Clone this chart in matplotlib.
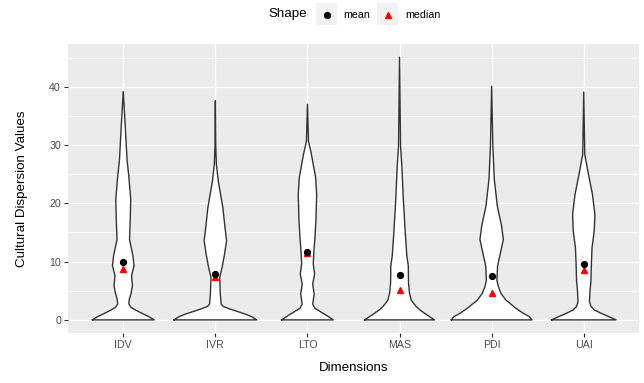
import matplotlib
matplotlib.use("Agg")
import matplotlib.pyplot as plt
from matplotlib.lines import Line2D
from matplotlib.patches import Rectangle

plt.rcParams['font.family'] = ['Liberation Sans', 'DejaVu Sans']

# ---- data -------------------------------------------------------------
categories = ["IDV", "IVR", "LTO", "MAS", "PDI", "UAI"]
means = [9.95, 7.9, 11.6, 7.75, 7.6, 9.6]
medians = [8.8, 7.4, 11.4, 5.2, 4.7, 8.6]

# violin outlines: value levels and half-widths (x-axis units)
idv_y = [0, 0.46, 1.03, 1.6, 2.17, 2.74, 3.6, 4.7, 5.9, 7.6, 9.3, 11.0, 13.8, 17.3, 20.7, 24.7, 27.5, 33.2, 39.2]
idv_w = [0.335, 0.289, 0.216, 0.144, 0.083, 0.06, 0.067, 0.087, 0.10, 0.09, 0.117, 0.105, 0.068, 0.076, 0.081, 0.06, 0.041, 0.022, 0.0]

ivr_y = [0, 0.5, 1.0, 1.45, 1.9, 2.3, 2.7, 4.4, 7.3, 9.0, 11.3, 13.6, 15.8, 19.3, 23.8, 26.7, 30.0, 37.6]
ivr_w = [0.45, 0.40, 0.325, 0.238, 0.152, 0.087, 0.063, 0.054, 0.047, 0.073, 0.10, 0.122, 0.105, 0.081, 0.032, 0.011, 0.004, 0.0]

lto_y = [0, 0.45, 0.9, 1.3, 2.0, 2.7, 4.4, 6.2, 7.9, 9.6, 11.8, 14.1, 17.0, 21.5, 24.4, 28.4, 30.7, 37.0]
lto_w = [0.281, 0.238, 0.195, 0.152, 0.081, 0.057, 0.073, 0.057, 0.078, 0.063, 0.07, 0.081, 0.092, 0.10, 0.089, 0.043, 0.011, 0.0]

mas_y = [0, 0.57, 1.14, 1.7, 2.28, 2.85, 3.4, 4.56, 6.4, 9.3, 11.0, 15.0, 20.7, 26.4, 29.8, 45.1]
mas_w = [0.379, 0.325, 0.271, 0.222, 0.181, 0.152, 0.127, 0.108, 0.097, 0.095, 0.079, 0.062, 0.041, 0.025, 0.011, 0.0]

pdi_y = [0, 0.57, 1.14, 1.71, 2.28, 2.85, 3.4, 4.0, 4.56, 5.7, 6.8, 9.3, 11.6, 13.8, 16.1, 19.5, 24.1, 29.8, 40.1]
pdi_w = [0.438, 0.408, 0.343, 0.289, 0.241, 0.198, 0.155, 0.127, 0.101, 0.073, 0.057, 0.065, 0.097, 0.127, 0.108, 0.062, 0.029, 0.013, 0.0]

uai_y = [0, 0.57, 1.14, 1.7, 2.28, 3.1, 5.0, 6.7, 9.6, 12.4, 15.3, 18.1, 21.5, 25.5, 28.4, 39.1]
uai_w = [0.35, 0.271, 0.187, 0.116, 0.079, 0.062, 0.068, 0.078, 0.083, 0.09, 0.114, 0.121, 0.095, 0.045, 0.011, 0.0]

profiles = [(idv_y, idv_w), (ivr_y, ivr_w), (lto_y, lto_w),
            (mas_y, mas_w), (pdi_y, pdi_w), (uai_y, uai_w)]

y_ticks = [0, 10, 20, 30, 40]

# ---- figure -----------------------------------------------------------
W, H = 644, 383
fig = plt.figure(figsize=(W / 100, H / 100), dpi=100)
ax = fig.add_axes([68 / W, (H - 333) / H, (639 - 68) / W, (333 - 44) / H])

ax.set_facecolor("#EBEBEB")
for s in ax.spines.values():
    s.set_visible(False)

ax.set_xlim(0.4, 6.6)
ax.set_ylim(-2.25, 47.35)
ax.set_yticks(y_ticks)
ax.set_yticks([5, 15, 25, 35, 45], minor=True)
ax.set_xticks(range(1, len(categories) + 1))
ax.set_xticklabels(categories)
ax.grid(True, which="major", color="white", linewidth=1.0, zorder=0)
ax.grid(True, which="minor", axis="y", color="white", linewidth=0.5, zorder=0)
ax.set_axisbelow(True)
ax.tick_params(axis="both", which="major", length=3, width=0.8, color="#333333",
               labelcolor="#4D4D4D", labelsize=7.7, pad=2)
ax.tick_params(axis="both", which="minor", length=0)

for i, (ys, ws) in enumerate(profiles):
    pos = i + 1
    ax.fill_betweenx(ys, [pos - w for w in ws], [pos + w for w in ws],
                     facecolor="white", edgecolor="none", zorder=2)
    xs = [pos - w for w in ws] + [pos + w for w in ws[::-1]] + [pos - ws[0]]
    yy = list(ys) + list(ys[::-1]) + [ys[0]]
    ax.plot(xs, yy, color="#333333", linewidth=1.0, zorder=3, solid_joinstyle="round")

xpos = list(range(1, len(categories) + 1))
ax.plot(xpos, means, linestyle="none", marker="o", color="black", markersize=4.2, zorder=5)
ax.plot(xpos, medians, linestyle="none", marker="^", color="red", markersize=4.8, zorder=4)

ax.set_xlabel("Dimensions", fontsize=9.65, labelpad=9)
ax.set_ylabel("Cultural Dispersion Values", fontsize=9.65, labelpad=15)

# ---- legend (top) -----------------------------------------------------
ly = 1 - 14.5 / H
fig.text(268 / W, ly, "Shape", fontsize=9.65, va="center", ha="left")
for bx in (316, 377):
    fig.add_artist(Rectangle((bx / W, 1 - 24.5 / H), 21 / W, 21 / H,
                             transform=fig.transFigure, facecolor="#F2F2F2",
                             edgecolor="none"))
fig.add_artist(Line2D([326.5 / W], [ly], transform=fig.transFigure, marker="o",
                      color="black", markersize=4.2, linestyle="none"))
fig.add_artist(Line2D([387.5 / W], [ly], transform=fig.transFigure, marker="^",
                      color="red", markersize=4.8, linestyle="none"))
fig.text(343 / W, ly, "mean", fontsize=7.7, va="center", ha="left")
fig.text(405 / W, ly, "median", fontsize=7.7, va="center", ha="left")

fig.savefig("out.png", dpi=100)
